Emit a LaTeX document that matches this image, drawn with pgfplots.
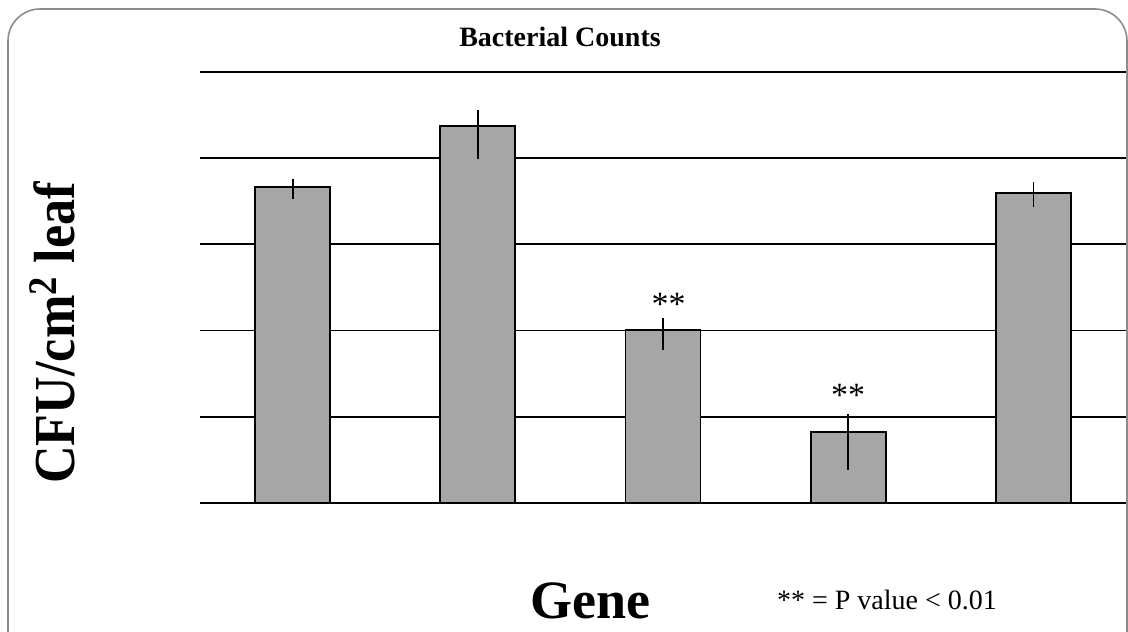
\documentclass[border=0pt]{standalone}
\usepackage{pgfplots}
\pgfplotsset{compat=1.18}
\usepackage{fontspec}
\setmainfont{Liberation Serif}
\newfontfamily\narrowserif{Liberation Serif}[FakeStretch=0.9]
\definecolor{barfill}{HTML}{A6A6A6}
\definecolor{boxgray}{HTML}{8C8C8C}
\begin{document}
\begin{tikzpicture}
% page = 1128 x 631 px, 1 px = 0.5 pt
\useasboundingbox (0,0) rectangle (564pt,315.5pt);
\draw[boxgray, line width=0.8pt, rounded corners=16pt] (4pt,-20pt) rectangle (563.5pt,311pt);
\begin{axis}[
  at={(100pt,64pt)}, anchor=south west,
  scale only axis,
  width=463pt, height=215.5pt,
  xmin=-0.5, xmax=4.5,
  ymin=0, ymax=5,
  ytick={0,1,2,3,4,5},
  xtick=\empty,
  yticklabels={},
  major tick length=0pt,
  axis line style={draw=none},
  ymajorgrids,
  grid style={black, line width=0.9pt},
  clip=false,
]
\addplot[ybar, bar width=0.405, fill=barfill, draw=black, line width=0.9pt,
  error bars/.cd, y dir=both, y explicit, error mark=none,
  error bar style={black, line width=0.9pt}]
  coordinates {
    (0,3.67) += (0,0.09) -= (0,0.143)
    (1,4.37) += (0,0.186) -= (0,0.383)
    (2,2.01) += (0,0.139) -= (0,0.237)
    (3,0.82) += (0,0.209) -= (0,0.433)
    (4,3.60) += (0,0.12) -= (0,0.17)
  };
\node[font=\fontsize{17}{19}\selectfont] at (axis cs:2.03,2.31) {**};
\node[font=\fontsize{17}{19}\selectfont] at (axis cs:3,1.25) {**};
\end{axis}
\node[font=\bfseries\fontsize{14}{16}\selectfont] at (280pt,297pt) {Bacterial Counts};
\node[font=\narrowserif\bfseries\fontsize{29}{32}\selectfont, rotate=90] at (26pt,149pt) {CFU/cm\textsuperscript{2} leaf};
\node[font=\bfseries\fontsize{27}{30}\selectfont] at (295pt,15pt) {Gene};
\node[font=\fontsize{14}{16}\selectfont] at (443.5pt,15.5pt) {** = P value < 0.01};
\end{tikzpicture}
\end{document}
